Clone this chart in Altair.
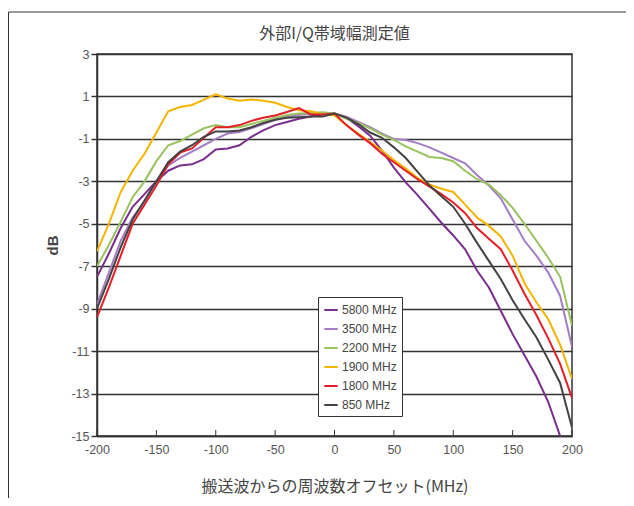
import altair as alt
import pandas as pd

freq = list(range(-200, 201, 10))

s5800 = [-7.5, -6.4, -5.2, -4.2, -3.6, -3.0, -2.5, -2.25, -2.2, -1.95, -1.5, -1.45, -1.3, -0.9, -0.6, -0.35, -0.2, -0.05, 0.05, 0.15, 0.2,
         0.0, -0.4, -0.85, -1.55, -2.35, -3.05, -3.65, -4.3, -4.95, -5.55, -6.2, -7.2, -8.0, -9.1, -10.2, -11.2, -12.2, -13.4, -15.0, None]
s3500 = [-8.8, -7.3, -5.8, -4.7, -3.95, -3.0, -2.25, -1.9, -1.6, -1.3, -1.0, -0.75, -0.68, -0.5, -0.3, -0.1, 0.05, 0.13, 0.2, 0.22, 0.2,
         0.05, -0.2, -0.45, -0.75, -1.0, -1.05, -1.2, -1.4, -1.65, -1.9, -2.15, -2.7, -3.2, -3.8, -4.8, -5.8, -6.5, -7.3, -8.4, -10.8]
s2200 = [-7.0, -6.0, -4.9, -3.75, -3.0, -2.05, -1.3, -1.1, -0.8, -0.5, -0.35, -0.45, -0.45, -0.3, -0.15, 0.0, 0.13, 0.2, 0.22, 0.25, 0.2,
         -0.05, -0.25, -0.5, -0.8, -1.05, -1.35, -1.6, -1.85, -1.9, -2.05, -2.5, -2.9, -3.15, -3.65, -4.25, -5.0, -5.8, -6.6, -7.5, -9.8]
s1900 = [-6.3, -5.0, -3.5, -2.5, -1.7, -0.7, 0.3, 0.5, 0.6, 0.85, 1.1, 0.9, 0.8, 0.85, 0.8, 0.7, 0.5, 0.35, 0.3, 0.15, 0.1,
         -0.35, -0.75, -1.15, -1.55, -2.0, -2.4, -2.85, -3.15, -3.35, -3.5, -4.1, -4.7, -5.1, -5.6, -6.5, -7.8, -8.7, -9.5, -10.7, -12.3]
s1800 = [-9.4, -8.0, -6.5, -5.0, -4.1, -3.2, -2.2, -1.65, -1.45, -0.95, -0.45, -0.45, -0.35, -0.15, 0.0, 0.1, 0.27, 0.45, 0.15, 0.15, 0.2,
         -0.35, -0.8, -1.2, -1.7, -2.1, -2.5, -2.9, -3.25, -3.6, -4.0, -4.5, -5.2, -5.7, -6.2, -7.2, -8.3, -9.3, -10.4, -11.6, -13.2]
s850 = [-9.0, -7.6, -6.1, -4.8, -3.9, -3.0, -2.1, -1.6, -1.3, -0.9, -0.65, -0.65, -0.6, -0.45, -0.25, -0.1, 0.0, 0.02, 0.05, 0.05, 0.2,
        0.0, -0.3, -0.7, -0.95, -1.4, -1.9, -2.55, -3.2, -3.7, -4.2, -5.0, -5.9, -6.75, -7.6, -8.6, -9.5, -10.35, -11.4, -12.5, -14.6]

series_names = ["5800 MHz", "3500 MHz", "2200 MHz", "1900 MHz", "1800 MHz", "850 MHz"]
series_vals = [s5800, s3500, s2200, s1900, s1800, s850]
series_colors = ["#7B2D8E", "#A57DC6", "#98C35C", "#F5B400", "#E41E26", "#424242"]

x_ticks = [-200, -150, -100, -50, 0, 50, 100, 150, 200]
y_ticks = [3, 1, -1, -3, -5, -7, -9, -11, -13, -15]

title_text = "外部I/Q帯域幅測定値"
x_title = "搬送波からの周波数オフセット(MHz)"
y_title = "dB"

rows = []
for name, vals in zip(series_names, series_vals):
    for f, v in zip(freq, vals):
        if v is not None:
            rows.append({"freq": f, "dB": v, "series": name})
df = pd.DataFrame(rows)

W, H = 475, 382
label_font = "Liberation Sans"
jp_font = "Noto Sans CJK JP"

xscale = alt.Scale(domain=[-200, 200], nice=False)
yscale = alt.Scale(domain=[-15, 3], nice=False)

frame = alt.Chart(pd.DataFrame({"a": [0]})).mark_rect(
    fill=None, stroke="#333333", strokeWidth=1
).encode(
    x=alt.value(-88.5), x2=alt.value(W + 80),
    y=alt.value(-42), y2=alt.value(H + 80)
)

lines = alt.Chart(df).mark_line(strokeWidth=2, clip=True).encode(
    x=alt.X("freq:Q", scale=xscale,
            axis=alt.Axis(values=x_ticks, grid=False, ticks=False, labelPadding=7,
                          labelFlush=False,
                          title=x_title, titlePadding=23, titleFontSize=16,
                          titleFont=jp_font, titleFontWeight="normal",
                          labelExpr="datum.value + ''")),
    y=alt.Y("dB:Q", scale=yscale,
            axis=alt.Axis(values=y_ticks, grid=True, tickSize=6, labelPadding=2,
                          title=y_title, titlePadding=10, titleFontSize=15,
                          titleFontWeight="bold", titleFont="Liberation Sans",
                          labelExpr="datum.value + ''")),
    color=alt.Color("series:N",
                    scale=alt.Scale(domain=series_names, range=series_colors),
                    legend=alt.Legend(title=None, orient="none", legendX=221, legendY=243,
                                      symbolType="stroke", symbolSize=180, symbolStrokeWidth=2,
                                      labelFont=label_font, labelFontSize=12, labelColor="#444444",
                                      rowPadding=5, padding=5, fillColor="white",
                                      strokeColor="#333333", labelOffset=3)),
    order=alt.Order("series:N")
)

xt = alt.Chart(pd.DataFrame({"t": x_ticks})).mark_rule(color="#333333", strokeWidth=1).encode(
    x=alt.X("t:Q", scale=xscale),
    y=alt.value(H - 6), y2=alt.value(H)
)

chart = alt.layer(frame, lines, xt).properties(
    width=W, height=H,
    title=alt.TitleParams(title_text, font=jp_font, fontSize=16, fontWeight="normal",
                          color="#444444", offset=0, dy=30, frame="group"),
    padding={"left": 89, "top": 46, "right": 54, "bottom": 62},
    autosize=alt.AutoSizeParams(type="none")
).configure_view(
    stroke="#333333", strokeWidth=1.5
).configure_axis(
    domainColor="#333333", domainWidth=1.5, tickColor="#333333", tickWidth=1.5,
    gridColor="#333333", gridWidth=1.5, gridOpacity=1,
    labelFont=label_font, labelFontSize=12.5, labelColor="#555555",
    titleColor="#444444"
)

chart.save("out.html", embed_options={"renderer": "svg", "actions": False})
